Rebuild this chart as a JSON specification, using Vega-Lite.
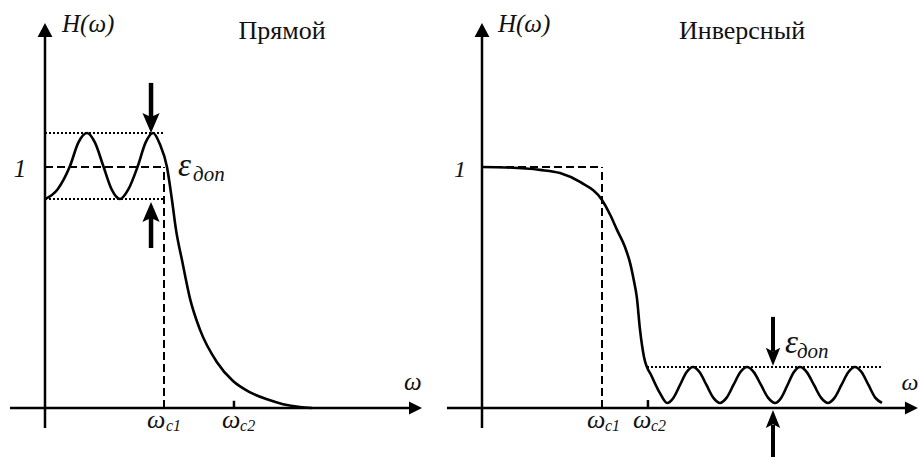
{
  "$schema": "https://vega.github.io/schema/vega-lite/v6.json",
  "padding": 0,
  "spacing": 0,
  "bounds": "flush",
  "background": "white",
  "config": {"view": {"stroke": null}, "font": "Liberation Serif"},
  "hconcat": [
    {
      "width": 460,
      "height": 457,
      "encoding": {
        "x": {"field": "w", "type": "quantitative", "scale": {"domain": [-0.37815, 3.48739], "nice": false, "zero": false}, "axis": null},
        "y": {"field": "h", "type": "quantitative", "scale": {"domain": [-0.20332, 1.69295], "nice": false, "zero": false}, "axis": null}
      },
      "layer": [
        {
          "data": {"values": [
            {"w": 0, "h": -0.083, "w2": 0, "h2": 1.568},
            {"w": -0.294, "h": 0, "w2": 3.1, "h2": 0},
            {"w": 1.588, "h": 0, "w2": 1.588, "h2": 0.03}
          ]},
          "mark": {"type": "rule", "strokeWidth": 2.5, "color": "black"},
          "encoding": {"x2": {"field": "w2"}, "y2": {"field": "h2"}}
        },
        {
          "data": {"values": [
            {"w": 0, "h": 1.0, "w2": 1.0, "h2": 1.0},
            {"w": 1.0, "h": 0, "w2": 1.0, "h2": 1.0}
          ]},
          "mark": {"type": "rule", "strokeWidth": 2, "strokeDash": [8, 4], "color": "black"},
          "encoding": {"x2": {"field": "w2"}, "y2": {"field": "h2"}}
        },
        {
          "data": {"values": [
            {"w": 0, "h": 1.141, "w2": 0.992, "h2": 1.141},
            {"w": 0, "h": 0.867, "w2": 1.008, "h2": 0.867}
          ]},
          "mark": {"type": "rule", "strokeWidth": 2, "strokeDash": [2, 2], "color": "black"},
          "encoding": {"x2": {"field": "w2"}, "y2": {"field": "h2"}}
        },
        {
          "data": {"values": [
            {"w": 0.891, "h": 1.349, "w2": 0.891, "h2": 1.2},
            {"w": 0.891, "h": 0.664, "w2": 0.891, "h2": 0.8}
          ]},
          "mark": {"type": "rule", "strokeWidth": 4.5, "color": "black"},
          "encoding": {"x2": {"field": "w2"}, "y2": {"field": "h2"}}
        },
        {
          "data": {"values": [
            {"w": 0, "h": 0.867}, {"w": 0.105, "h": 0.907}, {"w": 0.21, "h": 1.004}, {"w": 0.28, "h": 1.101},
            {"w": 0.353, "h": 1.141}, {"w": 0.42, "h": 1.101}, {"w": 0.49, "h": 1.004}, {"w": 0.56, "h": 0.907},
            {"w": 0.63, "h": 0.867}, {"w": 0.7, "h": 0.907}, {"w": 0.78, "h": 1.004}, {"w": 0.845, "h": 1.101},
            {"w": 0.908, "h": 1.141}, {"w": 0.965, "h": 1.095}, {"w": 1.025, "h": 1.0}, {"w": 1.067, "h": 0.863},
            {"w": 1.101, "h": 0.739}, {"w": 1.151, "h": 0.614}, {"w": 1.218, "h": 0.455}, {"w": 1.303, "h": 0.324},
            {"w": 1.445, "h": 0.19}, {"w": 1.58, "h": 0.112}, {"w": 1.72, "h": 0.066}, {"w": 1.866, "h": 0.036},
            {"w": 2.0, "h": 0.016}, {"w": 2.143, "h": 0.004}, {"w": 2.244, "h": 0.0}
          ]},
          "mark": {"type": "line", "interpolate": "monotone", "strokeWidth": 2.6, "color": "black"}
        },
        {
          "data": {"values": [{"w": 0, "h": 1.598}]},
          "mark": {"type": "point", "shape": "M0,0L-0.53,1L0.53,1Z", "size": 784, "filled": true, "color": "black", "opacity": 1, "strokeWidth": 0}
        },
        {
          "data": {"values": [{"w": 3.168, "h": 0}]},
          "mark": {"type": "point", "shape": "M0,0L-1,-0.5L-1,0.5Z", "size": 676, "filled": true, "color": "black", "opacity": 1, "strokeWidth": 0}
        },
        {
          "data": {"values": [{"w": 0.891, "h": 1.141}]},
          "mark": {"type": "point", "shape": "M0,0L-0.43,-1L0,-0.8L0.43,-1Z", "size": 1600, "filled": true, "color": "black", "opacity": 1, "strokeWidth": 0}
        },
        {
          "data": {"values": [{"w": 0.891, "h": 0.855}]},
          "mark": {"type": "point", "shape": "M0,0L-0.43,1L0,0.8L0.43,1Z", "size": 1600, "filled": true, "color": "black", "opacity": 1, "strokeWidth": 0}
        },
        {
          "data": {"values": [{"w": 0.143, "h": 1.56, "t": "H(ω)"}]},
          "mark": {"type": "text", "font": "Liberation Serif", "fontStyle": "italic", "fontSize": 25, "align": "left", "baseline": "alphabetic", "color": "#111"},
          "encoding": {"text": {"field": "t"}}
        },
        {
          "data": {"values": [{"w": 1.992, "h": 1.531, "t": "Прямой"}]},
          "mark": {"type": "text", "font": "Liberation Serif", "fontSize": 26, "align": "center", "baseline": "alphabetic", "color": "#111"},
          "encoding": {"text": {"field": "t"}}
        },
        {
          "data": {"values": [
            {"w": -0.21, "h": 0.958, "t": "1"},
            {"w": 3.092, "h": 0.075, "t": "ω"}
          ]},
          "mark": {"type": "text", "font": "Liberation Serif", "fontStyle": "italic", "fontSize": 25, "align": "center", "baseline": "alphabetic", "color": "#111"},
          "encoding": {"text": {"field": "t"}}
        },
        {
          "data": {"values": [
            {"w": 0.857, "h": -0.083, "t": "ω"},
            {"w": 1.487, "h": -0.083, "t": "ω"}
          ]},
          "mark": {"type": "text", "font": "Liberation Serif", "fontStyle": "italic", "fontSize": 26, "align": "left", "baseline": "alphabetic", "color": "#111"},
          "encoding": {"text": {"field": "t"}}
        },
        {
          "data": {"values": [
            {"w": 1.017, "h": -0.095, "t": "c1"},
            {"w": 1.639, "h": -0.095, "t": "c2"}
          ]},
          "mark": {"type": "text", "font": "Liberation Serif", "fontStyle": "italic", "fontSize": 16, "align": "left", "baseline": "alphabetic", "color": "#111"},
          "encoding": {"text": {"field": "t"}}
        },
        {
          "data": {"values": [{"w": 1.118, "h": 0.963, "t": "ε"}]},
          "mark": {"type": "text", "font": "Liberation Serif", "fontStyle": "italic", "fontSize": 33, "align": "left", "baseline": "alphabetic", "color": "#111"},
          "encoding": {"text": {"field": "t"}}
        },
        {
          "data": {"values": [{"w": 1.244, "h": 0.942, "t": "доп"}]},
          "mark": {"type": "text", "font": "Liberation Serif", "fontStyle": "italic", "fontSize": 21, "align": "left", "baseline": "alphabetic", "color": "#111"},
          "encoding": {"text": {"field": "t"}}
        }
      ]
    },
    {
      "width": 459,
      "height": 457,
      "encoding": {
        "x": {"field": "w", "type": "quantitative", "scale": {"domain": [-0.18333, 3.64167], "nice": false, "zero": false}, "axis": null},
        "y": {"field": "h", "type": "quantitative", "scale": {"domain": [-0.20332, 1.69295], "nice": false, "zero": false}, "axis": null}
      },
      "layer": [
        {
          "data": {"values": [
            {"w": 0, "h": -0.083, "w2": 0, "h2": 1.568},
            {"w": -0.292, "h": 0, "w2": 3.55, "h2": 0},
            {"w": 1.383, "h": 0, "w2": 1.383, "h2": 0.033}
          ]},
          "mark": {"type": "rule", "strokeWidth": 2.5, "color": "black"},
          "encoding": {"x2": {"field": "w2"}, "y2": {"field": "h2"}}
        },
        {
          "data": {"values": [
            {"w": 0, "h": 1.0, "w2": 1.0, "h2": 1.0},
            {"w": 1.0, "h": 0, "w2": 1.0, "h2": 1.0}
          ]},
          "mark": {"type": "rule", "strokeWidth": 2, "strokeDash": [8, 4], "color": "black"},
          "encoding": {"x2": {"field": "w2"}, "y2": {"field": "h2"}}
        },
        {
          "data": {"values": [
            {"w": 1.375, "h": 0.17, "w2": 3.333, "h2": 0.17}
          ]},
          "mark": {"type": "rule", "strokeWidth": 2, "strokeDash": [2, 2], "color": "black"},
          "encoding": {"x2": {"field": "w2"}, "y2": {"field": "h2"}}
        },
        {
          "data": {"values": [
            {"w": 2.425, "h": 0.378, "w2": 2.425, "h2": 0.235},
            {"w": 2.425, "h": -0.21, "w2": 2.425, "h2": -0.07}
          ]},
          "mark": {"type": "rule", "strokeWidth": 4, "color": "black"},
          "encoding": {"x2": {"field": "w2"}, "y2": {"field": "h2"}}
        },
        {
          "data": {"values": [
            {"w": 0, "h": 1.0}, {"w": 0.2, "h": 0.998}, {"w": 0.483, "h": 0.988}, {"w": 0.65, "h": 0.975},
            {"w": 0.817, "h": 0.938}, {"w": 1.0, "h": 0.863}, {"w": 1.07, "h": 0.8}, {"w": 1.125, "h": 0.739},
            {"w": 1.19, "h": 0.67}, {"w": 1.235, "h": 0.6}, {"w": 1.265, "h": 0.53}, {"w": 1.29, "h": 0.46},
            {"w": 1.317, "h": 0.324}, {"w": 1.35, "h": 0.212}, {"w": 1.417, "h": 0.129}, {"w": 1.483, "h": 0.062},
            {"w": 1.542, "h": 0.021}, {"w": 1.596, "h": 0.043}, {"w": 1.65, "h": 0.0955}, {"w": 1.704, "h": 0.148},
            {"w": 1.758, "h": 0.17}, {"w": 1.814, "h": 0.148}, {"w": 1.8705, "h": 0.0955}, {"w": 1.927, "h": 0.043},
            {"w": 1.983, "h": 0.021}, {"w": 2.039, "h": 0.043}, {"w": 2.0955, "h": 0.0955}, {"w": 2.152, "h": 0.148},
            {"w": 2.208, "h": 0.17}, {"w": 2.2665, "h": 0.148}, {"w": 2.325, "h": 0.0955}, {"w": 2.3835, "h": 0.043},
            {"w": 2.442, "h": 0.021}, {"w": 2.494, "h": 0.043}, {"w": 2.546, "h": 0.0955}, {"w": 2.598, "h": 0.148},
            {"w": 2.65, "h": 0.17}, {"w": 2.708, "h": 0.148}, {"w": 2.7665, "h": 0.0955}, {"w": 2.825, "h": 0.043},
            {"w": 2.883, "h": 0.021}, {"w": 2.939, "h": 0.043}, {"w": 2.9955, "h": 0.0955}, {"w": 3.052, "h": 0.148},
            {"w": 3.108, "h": 0.17}, {"w": 3.164, "h": 0.148}, {"w": 3.2205, "h": 0.0955}, {"w": 3.277, "h": 0.043},
            {"w": 3.333, "h": 0.021}
          ]},
          "mark": {"type": "line", "interpolate": "monotone", "strokeWidth": 2.6, "color": "black"}
        },
        {
          "data": {"values": [{"w": 0, "h": 1.598}]},
          "mark": {"type": "point", "shape": "M0,0L-0.53,1L0.53,1Z", "size": 784, "filled": true, "color": "black", "opacity": 1, "strokeWidth": 0}
        },
        {
          "data": {"values": [{"w": 3.633, "h": 0}]},
          "mark": {"type": "point", "shape": "M0,0L-1,-0.5L-1,0.5Z", "size": 676, "filled": true, "color": "black", "opacity": 1, "strokeWidth": 0}
        },
        {
          "data": {"values": [{"w": 2.425, "h": 0.175}]},
          "mark": {"type": "point", "shape": "M0,0L-0.4,-1L0,-0.8L0.4,-1Z", "size": 1300, "filled": true, "color": "black", "opacity": 1, "strokeWidth": 0}
        },
        {
          "data": {"values": [{"w": 2.425, "h": -0.008}]},
          "mark": {"type": "point", "shape": "M0,0L-0.4,1L0,0.8L0.4,1Z", "size": 1300, "filled": true, "color": "black", "opacity": 1, "strokeWidth": 0}
        },
        {
          "data": {"values": [{"w": 0.133, "h": 1.56, "t": "H(ω)"}]},
          "mark": {"type": "text", "font": "Liberation Serif", "fontStyle": "italic", "fontSize": 25, "align": "left", "baseline": "alphabetic", "color": "#111"},
          "encoding": {"text": {"field": "t"}}
        },
        {
          "data": {"values": [{"w": 2.167, "h": 1.531, "t": "Инверсный"}]},
          "mark": {"type": "text", "font": "Liberation Serif", "fontSize": 26, "align": "center", "baseline": "alphabetic", "color": "#111"},
          "encoding": {"text": {"field": "t"}}
        },
        {
          "data": {"values": [
            {"w": -0.183, "h": 0.958, "t": "1"},
            {"w": 3.567, "h": 0.075, "t": "ω"}
          ]},
          "mark": {"type": "text", "font": "Liberation Serif", "fontStyle": "italic", "fontSize": 24, "align": "center", "baseline": "alphabetic", "color": "#111"},
          "encoding": {"text": {"field": "t"}}
        },
        {
          "data": {"values": [
            {"w": 0.875, "h": -0.083, "t": "ω"},
            {"w": 1.258, "h": -0.083, "t": "ω"}
          ]},
          "mark": {"type": "text", "font": "Liberation Serif", "fontStyle": "italic", "fontSize": 26, "align": "left", "baseline": "alphabetic", "color": "#111"},
          "encoding": {"text": {"field": "t"}}
        },
        {
          "data": {"values": [
            {"w": 1.025, "h": -0.095, "t": "c1"},
            {"w": 1.408, "h": -0.095, "t": "c2"}
          ]},
          "mark": {"type": "text", "font": "Liberation Serif", "fontStyle": "italic", "fontSize": 16, "align": "left", "baseline": "alphabetic", "color": "#111"},
          "encoding": {"text": {"field": "t"}}
        },
        {
          "data": {"values": [{"w": 2.525, "h": 0.228, "t": "ε"}]},
          "mark": {"type": "text", "font": "Liberation Serif", "fontStyle": "italic", "fontSize": 33, "align": "left", "baseline": "alphabetic", "color": "#111"},
          "encoding": {"text": {"field": "t"}}
        },
        {
          "data": {"values": [{"w": 2.625, "h": 0.207, "t": "доп"}]},
          "mark": {"type": "text", "font": "Liberation Serif", "fontStyle": "italic", "fontSize": 21, "align": "left", "baseline": "alphabetic", "color": "#111"},
          "encoding": {"text": {"field": "t"}}
        }
      ]
    }
  ]
}
